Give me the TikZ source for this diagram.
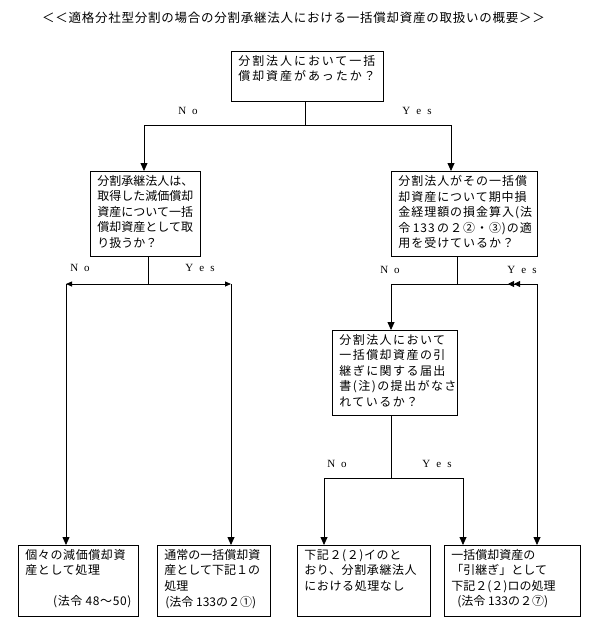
\documentclass[tikz,border=0pt]{standalone}
\usepackage{fontspec}
\setmainfont{Noto Sans CJK JP}
\newfontfamily\lat{Liberation Serif}
\usetikzlibrary{arrows.meta}
\tikzset{
  box/.style={draw, line width=0.8pt, inner sep=0pt, anchor=north west},
  conn/.style={line width=0.8pt},
  arr/.style={conn, -{Triangle[width=7pt,length=8pt]}},
  sarr/.style={conn, -{Triangle[width=5pt,length=6pt]}},
  darr/.style={conn, -{Triangle[width=6pt,length=6pt]Triangle[width=6pt,length=6pt]}},
  lbl/.style={font=\lat\fontsize{11}{12}\selectfont, inner sep=0pt},
}
\newcommand\fbx[6]{%
  \node[box, minimum width=#4, minimum height=#5] (#1) at (#2,#3)
  {\parbox[c][\dimexpr#5pt-8pt\relax][t]{\dimexpr#4pt-14pt\relax}{\raggedright\fontsize{12}{15.5}\selectfont #6}};}
\begin{document}
\begin{tikzpicture}[x=1pt,y=-1pt]
\useasboundingbox (0,0) rectangle (590,634);
\node[inner sep=0pt, anchor=west, font=\fontsize{12.5}{14}\selectfont\addfontfeature{LetterSpace=6}] (title) at (42,18) {＜＜適格分社型分割の場合の分割承継法人における一括償却資産の取扱いの概要＞＞};
% boxes
\fbx{top}{231}{51}{152}{50}{\addfontfeature{LetterSpace=16}分割法人において一括\\償却資産があったか？}
\fbx{b2}{90}{171}{110}{85}{分割承継法人は、\\取得した減価償却\\資産について一括\\償却資産として取\\り扱うか？}
\fbx{b3}{391}{171}{146}{85}{\addfontfeature{LetterSpace=8}分割法人がその一括償\\却資産について期中損\\金経理額の損金算入(法\\令~133~の２②・③)の適\\用を受けているか？}
\fbx{b4}{332}{330}{125}{85}{\addfontfeature{LetterSpace=12}分割法人において\\一括償却資産の引\\継ぎに関する届出\\書(注)の提出がなさ\\れているか？}
\fbx{bA}{18}{545}{120}{71}{\addfontfeature{LetterSpace=5}個々の減価償却資\\産として処理\\\mbox{}\\\mbox{}\hfill(法令~48～50)}
\fbx{bB}{157}{545}{113}{71}{通常の一括償却資\\産として下記１の\\処理\\\hspace*{1pt}(法令~133の２①)}
\fbx{bC}{297}{545}{133}{71}{\addfontfeature{LetterSpace=5}下記２(２)イのと\\おり、分割承継法人\\における処理なし}
\fbx{bD}{444}{545}{136}{71}{一括償却資産の\\「引継ぎ」として\\下記２(２)ロの処理\\\hspace*{6pt}(法令~133の２⑦)}
% coordinates
\coordinate (t0) at (305,125);
\coordinate (tL) at (144,125);
\coordinate (tR) at (451,125);
\coordinate (l0) at (148,284);
\coordinate (lL) at (66,284);
\coordinate (lR) at (231,284);
\coordinate (r0) at (457,284);
\coordinate (rL) at (391,284);
\coordinate (rR) at (537,284);
\coordinate (rD) at (508,284);
\coordinate (m0) at (391,478);
\coordinate (mL) at (324,478);
\coordinate (mR) at (463,478);
% connectors
\draw[conn] (top.south -| t0) -- (t0);
\draw[conn] (tL) -- (tR);
\draw[arr] (tL) -- (tL |- b2.north);
\draw[arr] (tR) -- (tR |- b3.north);
\draw[conn] (b2.south -| l0) -- (l0);
\draw[sarr] (l0) -- (lL);
\draw[sarr] (l0) -- (lR);
\draw[arr] (lL) -- (lL |- bA.north);
\draw[arr] (lR) -- (lR |- bB.north);
\draw[conn] (b3.south -| r0) -- (r0);
\draw[conn] (rL) -- (rR);
\draw[darr] (rR) -- (rD);
\draw[arr] (rL) -- (rL |- b4.north);
\draw[arr] (rR) -- (rR |- bD.north);
\draw[conn] (b4.south -| m0) -- (m0);
\draw[conn] (mL) -- (mR);
\draw[arr] (mL) -- (mL |- bC.north);
\draw[arr] (mR) -- (mR |- bD.north);
% labels
\node[lbl] (n1) at (188,111) {N\hspace{6pt}o};
\node[lbl] (y1) at (417,111) {Y\hspace{6pt}e\hspace{6pt}s};
\node[lbl] (n2) at (80,268) {N\hspace{6pt}o};
\node[lbl] (y2) at (200,268) {Y\hspace{6pt}e\hspace{6pt}s};
\node[lbl] (n3) at (390,270) {N\hspace{6pt}o};
\node[lbl] (y3) at (522,270) {Y\hspace{6pt}e\hspace{6pt}s};
\node[lbl] (n4) at (337,464) {N\hspace{6pt}o};
\node[lbl] (y4) at (437,464) {Y\hspace{6pt}e\hspace{6pt}s};
\end{tikzpicture}
\end{document}
